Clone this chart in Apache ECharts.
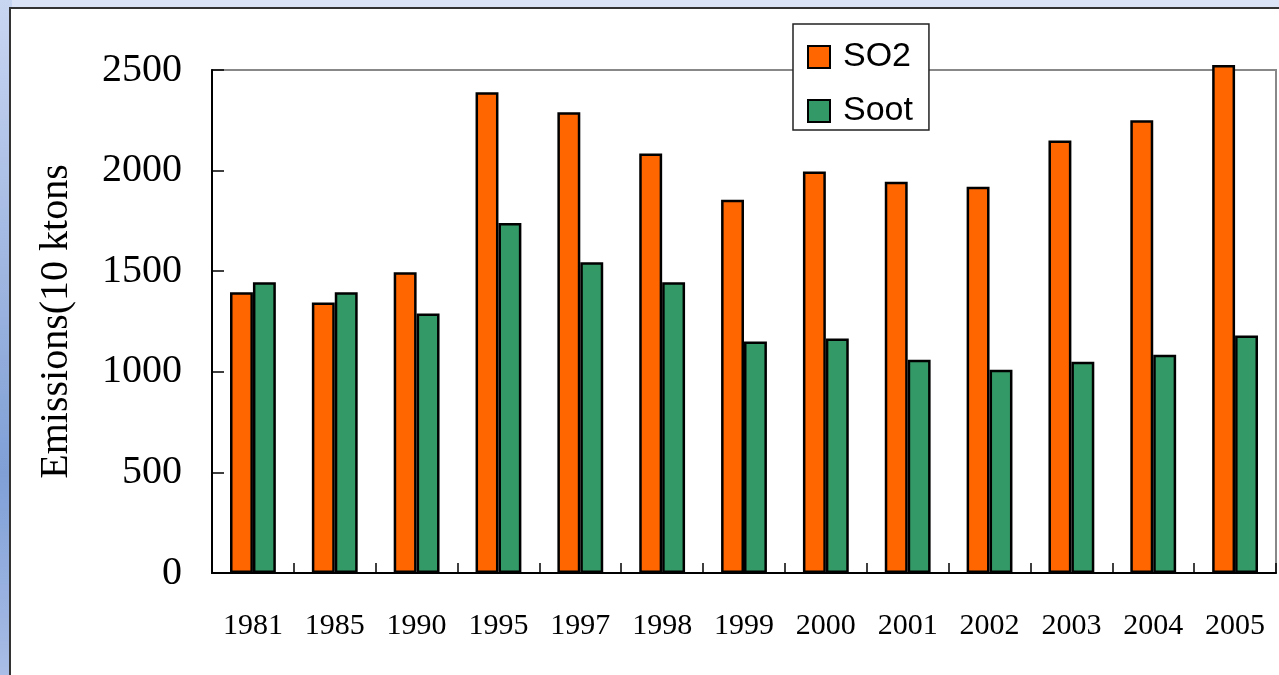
<!DOCTYPE html>
<html>
<head>
<meta charset="utf-8">
<script src="https://cdn.jsdelivr.net/npm/echarts@6/dist/echarts.min.js"></script>
<style>
html,body{margin:0;padding:0;background:#dbe3f7;}
#c{width:1279px;height:675px;}
</style>
</head>
<body>
<div id="c"></div>
<script>
const years = ['1981','1985','1990','1995','1997','1998','1999','2000','2001','2002','2003','2004','2005'];
const so2 = [1395, 1345, 1495, 2390, 2290, 2085, 1855, 1995, 1945, 1920, 2150, 2250, 2525];
const soot = [1445, 1395, 1290, 1740, 1545, 1445, 1150, 1165, 1060, 1010, 1050, 1085, 1180];
const yTicks = [0, 500, 1000, 1500, 2000, 2500];

const chart = echarts.init(document.getElementById('c'));
const serif = '"Liberation Serif","Times New Roman",serif';
chart.setOption({
  animation: false,
  backgroundColor: '#dbe3f7',
  graphic: [
    {type:'rect', z:-10, shape:{x:0,y:0,width:12,height:675},
     style:{fill:{type:'linear',x:0,y:0,x2:0,y2:1,colorStops:[{offset:0,color:'#c9d6f2'},{offset:0.4,color:'#9fb6e0'},{offset:0.7,color:'#7f9fd6'},{offset:1,color:'#a9bde6'}]}}},
    {type:'rect', z:-9, shape:{x:10,y:8,width:1275,height:675}, style:{fill:'#ffffff', stroke:'#333333', lineWidth:2}}
  ],
  grid: {left:212, right:3, top:70, bottom:102, show:true, borderColor:'#888888', borderWidth:2, backgroundColor:'transparent'},
  legend: {
    left: 793, top: 24, orient: 'vertical',
    itemWidth: 22, itemHeight: 22, itemGap: 20,
    padding: [16, 16, 2, 14],
    backgroundColor: '#ffffff', borderColor: '#222', borderWidth: 1.5,
    icon: 'rect',
    textStyle: {fontFamily:'"Liberation Sans",Arial,sans-serif', fontSize:34, color:'#000', padding:[0,0,0,8]},
    data: ['SO2','Soot']
  },
  xAxis: {
    type:'category', data: years,
    axisLine:{lineStyle:{color:'#000', width:2}},
    axisTick:{show:true, inside:true, length:10, lineStyle:{color:'#000', width:1.5}},
    axisLabel:{fontFamily:serif, fontSize:30, color:'#000', margin:38}
  },
  yAxis: {
    type:'value', min:yTicks[0], max:yTicks[yTicks.length-1], interval:500,
    name:'Emissions(10 ktons', nameLocation:'middle', nameGap:136, nameRotate:90,
    nameTextStyle:{fontFamily:serif, fontSize:40, color:'#000'},
    axisLine:{show:true, lineStyle:{color:'#000', width:2}},
    axisTick:{show:true, inside:true, length:12, lineStyle:{color:'#000', width:1.5}},
    splitLine:{show:false},
    axisLabel:{fontFamily:serif, fontSize:40, color:'#000', margin:30, formatter: v => String(v)}
  },
  series: [
    {name:'SO2', type:'bar', data: so2, barGap:'0%', barCategoryGap:'44%', clip:false,
     itemStyle:{color:'#ff6600', borderColor:'#000', borderWidth:2.5}},
    {name:'Soot', type:'bar', data: soot, barGap:'0%', barCategoryGap:'44%', clip:false,
     itemStyle:{color:'#339966', borderColor:'#000', borderWidth:2.5}}
  ]
});
</script>
</body>
</html>
